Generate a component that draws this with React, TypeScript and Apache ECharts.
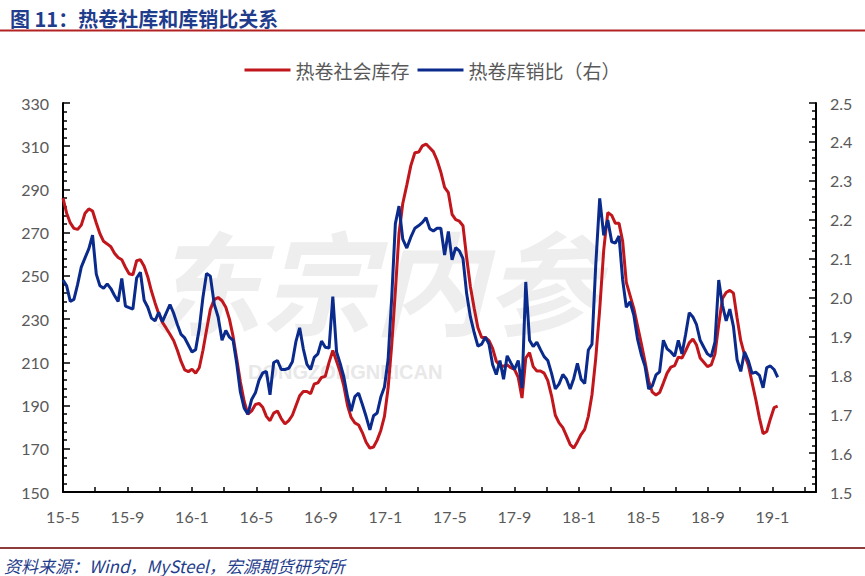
import React, { useEffect, useRef } from 'react';
import * as echarts from 'echarts';

const TITLE = '图 11：热卷社库和库销比关系';
const SOURCE = '资料来源：Wind，MySteel，宏源期货研究所';
const seriesNames = ['热卷社会库存', '热卷库销比（右）'];
const xTickLabels = ['15-5', '15-9', '16-1', '16-5', '16-9', '17-1', '17-5', '17-9', '18-1', '18-5', '18-9', '19-1'];
const leftTicks = { min: 150, max: 330, interval: 20 };
const rightTicks = { min: 1.5, max: 2.5, interval: 0.1 };
// weekly observations starting 2015-05-01
const firstWeek = [2015, 5, 1];

const stockValues = [
  286, 279, 274.5, 272, 271.5, 273.5, 279, 281, 280, 274.5,
  269.5, 266, 264.8, 263.5, 260.5, 258.5, 257.5, 254, 251, 250.5,
  257, 257.5, 254.5, 249.5, 243, 237.5, 232.5, 228.5, 225.8, 223,
  220, 215.5, 210.4, 206.5, 205.7, 206.8, 205, 207.5, 215.5, 225,
  234.5, 239, 240, 238.5, 235.5, 230, 222, 211.5, 201, 192,
  186, 187.5, 190.5, 191, 189.2, 185, 183, 186.5, 187.5, 184,
  181.5, 183, 185.5, 190, 194.5, 196.5, 196.5, 195.5, 200, 200.5,
  203, 203.5, 210, 215.5, 210.5, 205.5, 199, 190, 184.5, 182,
  181, 177.5, 173, 170.3, 170.8, 174, 178.5, 185, 198, 218,
  243, 269.5, 283.5, 292, 301, 307, 307.3, 310.2, 311, 309.3,
  307.5, 303.5, 298, 291, 288.5, 278.5, 276, 275.3, 273.2, 258.5,
  245, 235, 226, 221.5, 221.5, 220, 216.5, 210.5, 208.5, 208.2,
  208.8, 207.5, 206.7, 203, 193.5, 212, 214.5, 208, 206, 206,
  205, 201.5, 194.5, 185.5, 182, 179.8, 176, 172, 170.3, 173.3,
  176.6, 179, 185, 195, 211.5, 234.5, 262, 279.3, 278, 274.3,
  274.3, 266, 247, 241, 235, 226.8, 218.7, 210.3, 201.3, 196.2,
  194.9, 196, 200.4, 205, 207.8, 208.5, 212.4, 212, 215.3, 219,
  220.8, 218, 212, 210, 208, 208.8, 213.8, 227.5, 239.5, 242.3,
  243.3, 242, 230.5, 220, 213.6, 208.8, 200.8, 192.8, 184.2, 177,
  178, 183.8, 189, 189.7,
];

const ratioValues = [
  2.045, 2.03, 1.99, 1.995, 2.033, 2.078, 2.102, 2.125, 2.16, 2.06,
  2.03, 2.024, 2.035, 2.023, 2.005, 1.99, 2.049, 1.978, 1.974, 1.97,
  2.05, 2.065, 1.993, 1.975, 1.947, 1.94, 1.962, 1.938, 1.96, 1.982,
  1.959, 1.93, 1.905, 1.896, 1.878, 1.86, 1.866, 1.92, 2.0, 2.062,
  2.055, 1.983, 1.95, 1.89, 1.915, 1.898, 1.89, 1.83, 1.757, 1.716,
  1.7, 1.738, 1.755, 1.788, 1.806, 1.81, 1.75, 1.833, 1.838, 1.815,
  1.815, 1.818, 1.835, 1.888, 1.922, 1.868, 1.828, 1.815, 1.846, 1.855,
  1.888, 1.872, 1.87, 2.002, 1.86, 1.83, 1.795, 1.745, 1.708, 1.745,
  1.754, 1.725, 1.694, 1.66, 1.696, 1.703, 1.744, 1.77, 1.84, 2.0,
  2.19, 2.235, 2.15, 2.127, 2.155, 2.178, 2.185, 2.193, 2.205, 2.177,
  2.171, 2.178, 2.178, 2.109, 2.17, 2.097, 2.128, 2.12, 2.1, 2.01,
  1.95, 1.91, 1.875, 1.88, 1.898, 1.88, 1.827, 1.802, 1.838, 1.79,
  1.85, 1.832, 1.815, 1.838, 1.767, 2.04, 1.89, 1.874, 1.885, 1.866,
  1.848, 1.838, 1.805, 1.765, 1.778, 1.802, 1.79, 1.765, 1.792, 1.831,
  1.79, 1.779, 1.865, 1.88, 2.08, 2.255, 2.16, 2.199, 2.143, 2.14,
  2.158, 2.045, 1.975, 1.989, 1.955, 1.893, 1.853, 1.823, 1.765, 1.773,
  1.801, 1.809, 1.89, 1.868, 1.86, 1.849, 1.89, 1.855, 1.905, 1.961,
  1.95, 1.93, 1.89, 1.872, 1.855, 1.848, 1.885, 2.045, 1.98, 1.94,
  1.97, 1.925, 1.84, 1.81, 1.86, 1.838, 1.805, 1.808, 1.8, 1.768,
  1.82, 1.824, 1.815, 1.795,
];

// x position in months since 2015-05 for week i
function weekPos(i: number): number {
  const d = new Date(Date.UTC(firstWeek[0], firstWeek[1] - 1, firstWeek[2] + 7 * i));
  const y = d.getUTCFullYear();
  const m = d.getUTCMonth();
  const day = d.getUTCDate();
  const dim = new Date(Date.UTC(y, m + 1, 0)).getUTCDate();
  return (y - firstWeek[0]) * 12 + (m - (firstWeek[1] - 1)) + (day - 1) / dim;
}

const LABEL = '#595959';
const AX = '#000000';

export default function App() {
  const ref = useRef<HTMLDivElement>(null);
  useEffect(() => {
    document.body.style.margin = '0';
    if (!ref.current) return;
    const chart = echarts.init(ref.current, null, { renderer: 'svg' });
    const red = '#C0161C';
    const blue = '#0A2A8C';
    const option: any = {
      animation: false,
      backgroundColor: '#ffffff',
      title: {
        text: TITLE,
        left: 5,
        top: 3,
        textStyle: { fontSize: 20, fontWeight: 'bold', color: '#1F3D8C', fontFamily: 'Noto Sans CJK SC' },
      },
      legend: {
        top: 54,
        left: 'center',
        icon: 'rect',
        itemWidth: 46,
        itemHeight: 3,
        itemGap: 8,
        data: seriesNames,
        textStyle: { fontSize: 19, color: LABEL, fontFamily: 'Noto Sans CJK SC', lineHeight: 22 },
      },
      grid: { left: 63, right: 49, top: 103, bottom: 84 },
      graphic: [
        {
          type: 'text', z: 0, silent: true,
          style: { text: '东宗内参', x: 150, y: 222, fontSize: 112, lineHeight: 112, fontStyle: 'italic', fontWeight: 'bold', fill: '#eeeeee', fontFamily: 'Noto Sans CJK SC' },
        },
        {
          type: 'text', z: 0, silent: true,
          style: { text: 'DONGZONGNEICAN', x: 248, y: 372, verticalAlign: 'middle', fontSize: 20, lineHeight: 20, fontWeight: 'bold', fill: '#e8e8e8', fontFamily: 'Liberation Sans' },
        },
        { type: 'line', shape: { x1: 0, y1: 30.5, x2: 865, y2: 30.5 }, style: { stroke: '#B22222', lineWidth: 2 } },
        { type: 'line', shape: { x1: 0, y1: 548, x2: 865, y2: 548 }, style: { stroke: '#8E3B3B', lineWidth: 2 } },
        {
          type: 'text',
          style: { text: SOURCE, x: 4, y: 565, verticalAlign: 'middle', fontSize: 17, fontStyle: 'italic', fill: '#1F3D8C', fontFamily: 'Noto Sans CJK SC' },
        },
      ],
      xAxis: {
        type: 'value',
        min: 0,
        max: 46.7,
        interval: 2,
        axisLine: { show: true, lineStyle: { color: AX, width: 2 } },
        axisTick: { show: true, inside: true, length: 5, lineStyle: { color: AX, width: 1.5 } },
        axisLabel: {
          margin: 16,
          color: LABEL,
          fontSize: 16,
          fontFamily: 'Lato',
          showMaxLabel: false,
          formatter: (v: number) => {
            const k = Math.round(v);
            return k % 4 === 0 && xTickLabels[k / 4] ? xTickLabels[k / 4] : '';
          },
        },
        splitLine: { show: false },
      },
      yAxis: [
        {
          type: 'value',
          position: 'left',
          min: leftTicks.min,
          max: leftTicks.max,
          interval: leftTicks.interval,
          axisLine: { show: true, lineStyle: { color: AX, width: 2 } },
          axisTick: { show: true, inside: true, length: 7, lineStyle: { color: AX, width: 1.5 } },
          minorTick: { show: true, splitNumber: 5, length: 4, lineStyle: { color: AX, width: 1.5 } },
          axisLabel: { margin: 14, color: LABEL, fontSize: 16, fontFamily: 'Lato' },
          splitLine: { show: false },
        },
        {
          type: 'value',
          position: 'right',
          min: rightTicks.min,
          max: rightTicks.max,
          interval: rightTicks.interval,
          axisLine: { show: true, lineStyle: { color: AX, width: 2 } },
          axisTick: { show: true, inside: true, length: 7, lineStyle: { color: AX, width: 1.5 } },
          minorTick: { show: true, splitNumber: 5, length: 4, lineStyle: { color: AX, width: 1.5 } },
          axisLabel: { margin: 14, color: LABEL, fontSize: 16, fontFamily: 'Lato', formatter: (v: number) => v.toFixed(1) },
          splitLine: { show: false },
        },
      ],
      series: [
        {
          name: seriesNames[0],
          type: 'line',
          yAxisIndex: 0,
          showSymbol: false,
          z: 3,
          data: stockValues.map((v, i) => [weekPos(i), v]),
          lineStyle: { color: red, width: 3 },
          itemStyle: { color: red },
        },
        {
          name: seriesNames[1],
          type: 'line',
          yAxisIndex: 1,
          showSymbol: false,
          z: 4,
          data: ratioValues.map((v, i) => [weekPos(i), v]),
          lineStyle: { color: blue, width: 3 },
          itemStyle: { color: blue },
        },
      ],
    };
    chart.setOption(option);
    return () => chart.dispose();
  }, []);
  return <div ref={ref} style={{ width: 865, height: 576 }} />;
}
